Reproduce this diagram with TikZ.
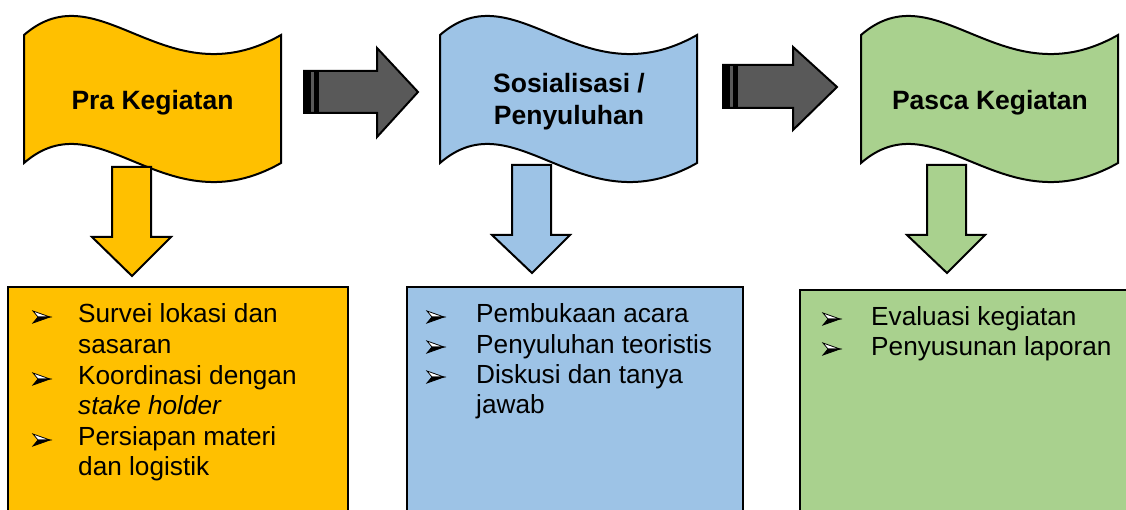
\documentclass[tikz,border=0pt]{standalone}
\usepackage{fontspec}
\setmainfont{Liberation Sans}
\definecolor{cyellow}{HTML}{FFC000}
\definecolor{cblue}{HTML}{9DC3E6}
\definecolor{cgreen}{HTML}{A9D18E}
\definecolor{cgray}{HTML}{595959}
\begin{document}
\begin{tikzpicture}[x=1pt,y=-1pt,
  outl/.style={draw=black,line width=2pt,line join=miter},
  title/.style={font=\fontsize{26.5}{32}\selectfont\bfseries,anchor=base,inner sep=0pt},
  item/.style={font=\fontsize{26.2}{30}\selectfont,anchor=base west,inner sep=0pt},
  bullethead/.pic={
    \draw[black,line width=0.8pt,line join=miter,fill=white] (0,-6) -- (17,0) -- (5,0) -- cycle;
    \draw[black,line width=0.8pt,line join=miter,fill=black] (5,0) -- (17,0) -- (0,6) -- cycle;
  }]
\useasboundingbox (0,0) rectangle (1126,510);
\clip (0,0) rectangle (1126,510);
\fill[white] (0,0) rectangle (1126,510);

% ---------- flags ----------
\draw[outl,fill=cyellow] (24,35) .. controls +(76,-66) and +(-116,66) .. (281,35)
  -- (281,163) .. controls +(-116,66) and +(76,-66) .. (24,163) -- cycle;
\draw[outl,fill=cblue] (440,35) .. controls +(76,-66) and +(-116,66) .. (697,35)
  -- (697,163) .. controls +(-116,66) and +(76,-66) .. (440,163) -- cycle;
\draw[outl,fill=cgreen] (861,35) .. controls +(76,-66) and +(-116,66) .. (1118,35)
  -- (1118,163) .. controls +(-116,66) and +(76,-66) .. (861,163) -- cycle;

\node[title] (t1) at (152.5,110) {Pra Kegiatan};
\node[title] (t2a) at (569,93) {Sosialisasi /};
\node[title] (t2b) at (569,125) {Penyuluhan};
\node[title] (t3) at (990,110) {Pasca Kegiatan};

% ---------- gray striped arrows ----------
\draw[outl,fill=cgray] (304,71) -- (377,71) -- (377,48) -- (418,92) -- (377,137)
  -- (377,113) -- (304,113) -- cycle;
\fill[black] (304,71) rectangle (311,113);
\fill[black] (314,71) rectangle (319,113);

\draw[outl,fill=cgray] (723,65) -- (793,65) -- (793,47) -- (837,87) -- (793,130)
  -- (793,108) -- (723,108) -- cycle;
\fill[black] (723,65) rectangle (730,108);
\fill[black] (733,65) rectangle (738,108);

% ---------- down arrows ----------
\draw[outl,fill=cyellow] (112,167) -- (151,167) -- (151,237) -- (171,237) -- (132,276)
  -- (92,237) -- (112,237) -- cycle;
\draw[outl,fill=cblue] (512,165) -- (551,165) -- (551,235) -- (570,235) -- (532,273)
  -- (492,235) -- (512,235) -- cycle;
\draw[outl,fill=cgreen] (927,165) -- (966,165) -- (966,235) -- (985,235) -- (947,273)
  -- (907,235) -- (927,235) -- cycle;

% ---------- boxes ----------
\draw[outl,fill=cyellow] (8,287) rectangle (348,530);
\draw[outl,fill=cblue] (407,287) rectangle (743,530);
\draw[outl,fill=cgreen] (800,290) rectangle (1140,530);

% yellow box text
\pic at (33,317) {bullethead};
\node[item] (y1) at (78,323) {Survei lokasi dan};
\node[item] (y2) at (78,353) {sasaran};
\pic at (33,379) {bullethead};
\node[item] (y3) at (78,384) {Koordinasi dengan};
\node[item] (y4) at (78,414) {\itshape stake holder};
\pic at (33,440) {bullethead};
\node[item] (y5) at (78,445) {Persiapan materi};
\node[item] (y6) at (78,475) {dan logistik};

% blue box text
\pic at (427,317) {bullethead};
\node[item] (u1) at (476,323) {Pembukaan acara};
\pic at (427,347) {bullethead};
\node[item] (u2) at (476,353) {Penyuluhan teoristis};
\pic at (427,377) {bullethead};
\node[item] (u3) at (476,383) {Diskusi dan tanya};
\node[item] (u4) at (476,413) {jawab};

% green box text
\pic at (823,319) {bullethead};
\node[item] (g1) at (871,325) {Evaluasi kegiatan};
\pic at (823,349) {bullethead};
\node[item] (g2) at (871,355) {Penyusunan laporan};
\end{tikzpicture}
\end{document}
